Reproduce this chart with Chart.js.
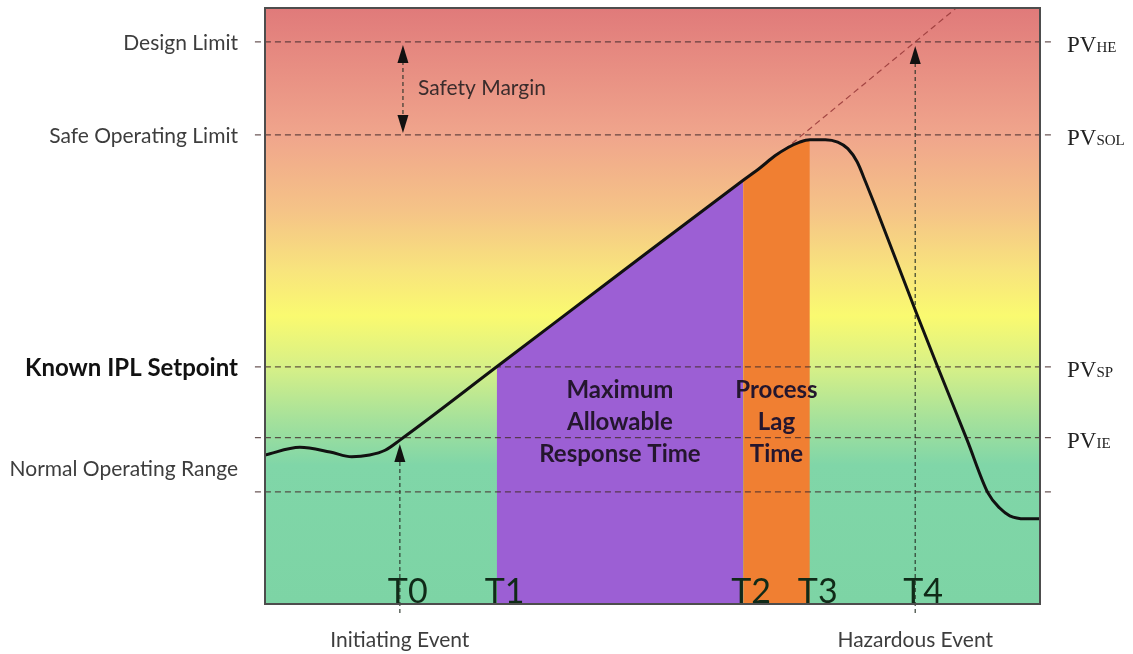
<!DOCTYPE html>
<html lang="en">
<head>
<meta charset="UTF-8">
<title>IPL Response Time</title>
<script src="https://cdn.jsdelivr.net/npm/chart.js"></script>
<style>
  body { margin: 0; background: #fff; }
  canvas { display: block; }
</style>
</head>
<body>
<canvas id="responseChart" width="1133" height="654"></canvas>
<script>
// process value levels, 0 = bottom of frame, 100 = top
const levelNames = ['Design Limit', 'Safe Operating Limit', 'Known IPL Setpoint', 'PV_IE', 'Normal Low'];
const levelValues = [94.3, 78.7, 39.8, 27.9, 18.8];

// left hand labels (value = vertical position on the same scale)
const leftLabels = ['Design Limit', 'Safe Operating Limit', 'Known IPL Setpoint', 'Normal Operating Range'];
const leftLabelValues = [94.3, 78.7, 39.8, 22.8];

// right hand PV labels
const pvSubscripts = ['HE', 'SOL', 'SP', 'IE'];
const pvValues = [94.3, 78.7, 39.8, 27.9];

// time marks, 0 = left edge of frame, 100 = right edge
const timeLabels = ['T0', 'T1', 'T2', 'T3', 'T4'];
const timeValues = [17.4, 29.9, 61.7, 70.3, 83.9];
const eventLabels = ['Initiating Event', 'Hazardous Event'];
const eventTimes = [17.4, 83.9];

// process value trace
const curveX = [0, 4.5, 8.4, 11.2, 13.5, 15.5, 17.4, 29.9, 45.8, 61.7, 63.9, 65.8, 67.5, 69.0, 70.3, 72.3, 73.9, 75.2, 76.4, 77.5, 78.7, 84.0, 86.7, 90.6, 93.3, 94.8, 96.1, 98.1, 100];
const curveY = [25.0, 26.3, 25.5, 24.7, 25.0, 25.8, 27.5, 39.8, 55.5, 71.1, 73.2, 75.2, 76.6, 77.5, 77.9, 77.9, 77.5, 76.4, 74.2, 70.8, 66.9, 49.0, 40.1, 27.5, 18.6, 16.1, 14.8, 14.3, 14.3];

// extrapolated (uncontrolled) trend
const trendX = [67.0, 89.2];
const trendY = [76.2, 100];

const safetyMarginX = 17.8;
const rangeLabel = 'Safety Margin';
const responseLines = ['Maximum', 'Allowable', 'Response Time'];
const lagLines = ['Process', 'Lag', 'Time'];
const textLineValues = [34.6, 29.2, 23.8];

const pts = (xs, ys) => xs.map((x, i) => ({ x: x, y: ys[i] }));
const between = (a, b) => pts(curveX, curveY).filter(p => p.x >= a && p.x <= b);

const dashStyle = { borderColor: 'rgba(70,45,45,0.8)', borderWidth: 1.3, borderDash: [6, 4], pointRadius: 0, fill: false, clip: false, order: 2 };
const shaftStyle = { borderColor: 'rgba(40,50,40,0.85)', borderWidth: 1.3, borderDash: [4, 3], pointRadius: 0, fill: false, clip: false, order: 2 };

const datasets = [];

datasets.push({
    data: pts(curveX, curveY),
    borderColor: '#111',
    borderWidth: 3,
    pointRadius: 0,
    cubicInterpolationMode: 'monotone',
    fill: false,
    order: 0
});

datasets.push({
    data: pts(trendX, trendY),
    borderColor: 'rgba(150,55,55,0.85)',
    borderWidth: 1.2,
    borderDash: [6, 4],
    pointRadius: 0,
    fill: false,
    order: 1
});

levelValues.forEach(v => {
    datasets.push(Object.assign({ data: [{ x: -1.3, y: v }, { x: 101.5, y: v }] }, dashStyle));
});

// arrow shafts
datasets.push(Object.assign({ data: [{ x: timeValues[0], y: -1.5 }, { x: timeValues[0], y: curveY[6] - 2 }] }, shaftStyle));
datasets.push(Object.assign({ data: [{ x: timeValues[4], y: -1.5 }, { x: timeValues[4], y: levelValues[0] - 2 }] }, shaftStyle));
datasets.push(Object.assign({ data: [{ x: safetyMarginX, y: levelValues[0] - 2 }, { x: safetyMarginX, y: levelValues[1] + 2 }] }, shaftStyle));

// response time and lag time areas
datasets.push({
    data: between(timeValues[1], timeValues[2]),
    borderWidth: 0,
    pointRadius: 0,
    backgroundColor: '#9c5fd4',
    cubicInterpolationMode: 'monotone',
    fill: 'start',
    order: 5
});
datasets.push({
    data: between(timeValues[2], timeValues[3]),
    borderWidth: 0,
    pointRadius: 0,
    backgroundColor: '#f07f32',
    cubicInterpolationMode: 'monotone',
    fill: 'start',
    order: 5
});

function arrowHead(ctx, x, tip, dir) {
    const len = 18, half = 5.5;
    ctx.beginPath();
    ctx.moveTo(x, tip);
    ctx.lineTo(x - half, tip + dir * len);
    ctx.lineTo(x + half, tip + dir * len);
    ctx.closePath();
    ctx.fill();
}

const zonePlugin = {
    id: 'zones',
    beforeDraw(chart) {
        const { ctx, chartArea: a } = chart;
        const g = ctx.createLinearGradient(0, a.top, 0, a.bottom);
        g.addColorStop(0, 'rgb(224,122,122)');
        g.addColorStop(0.213, 'rgb(240,165,140)');
        g.addColorStop(0.339, 'rgb(245,195,135)');
        g.addColorStop(0.44, 'rgb(248,228,125)');
        g.addColorStop(0.517, 'rgb(250,250,112)');
        g.addColorStop(0.602, 'rgb(215,240,135)');
        g.addColorStop(0.691, 'rgb(165,225,155)');
        g.addColorStop(0.767, 'rgb(128,214,168)');
        g.addColorStop(1, 'rgb(125,212,165)');
        ctx.save();
        ctx.fillStyle = g;
        ctx.fillRect(a.left, a.top, a.right - a.left, a.bottom - a.top);
        ctx.restore();
    },
    afterDatasetsDraw(chart) {
        const { ctx, chartArea: a } = chart;
        const xs = chart.scales.x, ys = chart.scales.y;
        ctx.save();

        // frame
        ctx.strokeStyle = '#4d4d4d';
        ctx.lineWidth = 2;
        ctx.strokeRect(a.left, a.top, a.right - a.left, a.bottom - a.top);

        // arrow heads
        ctx.fillStyle = '#111';
        arrowHead(ctx, xs.getPixelForValue(timeValues[0]), ys.getPixelForValue(curveY[6]) + 4, 1);
        arrowHead(ctx, xs.getPixelForValue(timeValues[4]), ys.getPixelForValue(levelValues[0]) + 4, 1);
        arrowHead(ctx, xs.getPixelForValue(safetyMarginX), ys.getPixelForValue(levelValues[0]) + 3, 1);
        arrowHead(ctx, xs.getPixelForValue(safetyMarginX), ys.getPixelForValue(levelValues[1]) - 2, -1);

        // left labels
        ctx.textAlign = 'right';
        ctx.textBaseline = 'middle';
        leftLabels.forEach((t, i) => {
            const bold = t === 'Known IPL Setpoint';
            ctx.font = bold ? 'bold 24px Lato' : '21px Lato';
            ctx.fillStyle = bold ? '#111' : '#3d3d3d';
            ctx.fillText(t, a.left - 27, ys.getPixelForValue(leftLabelValues[i]) + 1);
        });

        // right PV labels
        ctx.textAlign = 'left';
        ctx.textBaseline = 'alphabetic';
        ctx.fillStyle = '#222';
        pvSubscripts.forEach((s, i) => {
            const y = ys.getPixelForValue(pvValues[i]) + 10;
            ctx.font = '23px "Liberation Serif"';
            ctx.fillText('PV', a.right + 27, y);
            const w = ctx.measureText('PV').width;
            ctx.font = '15px "Liberation Serif"';
            ctx.fillText(s, a.right + 27 + w, y);
        });

        // safety margin label
        ctx.font = '21px Lato';
        ctx.fillStyle = '#3a2c2c';
        ctx.textBaseline = 'middle';
        ctx.fillText(rangeLabel, xs.getPixelForValue(safetyMarginX) + 15,
            ys.getPixelForValue((levelValues[0] + levelValues[1]) / 2));

        // area labels
        ctx.textAlign = 'center';
        ctx.textBaseline = 'alphabetic';
        ctx.font = 'bold 24px Lato';
        ctx.fillStyle = '#24162e';
        const midResp = xs.getPixelForValue((timeValues[1] + timeValues[2]) / 2);
        const midLag = xs.getPixelForValue((timeValues[2] + timeValues[3]) / 2);
        responseLines.forEach((t, i) => ctx.fillText(t, midResp, ys.getPixelForValue(textLineValues[i])));
        lagLines.forEach((t, i) => ctx.fillText(t, midLag, ys.getPixelForValue(textLineValues[i])));

        // time marks
        ctx.textAlign = 'left';
        ctx.font = '34px Lato';
        ctx.fillStyle = '#102a18';
        timeLabels.forEach((t, i) => {
            ctx.fillText(t, xs.getPixelForValue(timeValues[i]) - 12, a.bottom - 1);
        });

        // event labels under the frame
        ctx.textAlign = 'center';
        ctx.font = '21px Lato';
        ctx.fillStyle = '#3d3d3d';
        eventLabels.forEach((t, i) => {
            ctx.fillText(t, xs.getPixelForValue(eventTimes[i]), a.bottom + 43);
        });

        ctx.restore();
    }
};

new Chart(document.getElementById('responseChart'), {
    type: 'line',
    data: { datasets: datasets },
    options: {
        responsive: false,
        animation: false,
        layout: { padding: { left: 265, right: 93, top: 8, bottom: 50 } },
        scales: {
            x: { type: 'linear', min: 0, max: 100, display: false },
            y: { type: 'linear', min: 0, max: 100, display: false }
        },
        plugins: {
            legend: { display: false },
            tooltip: { enabled: false }
        }
    },
    plugins: [zonePlugin]
});
</script>
</body>
</html>
